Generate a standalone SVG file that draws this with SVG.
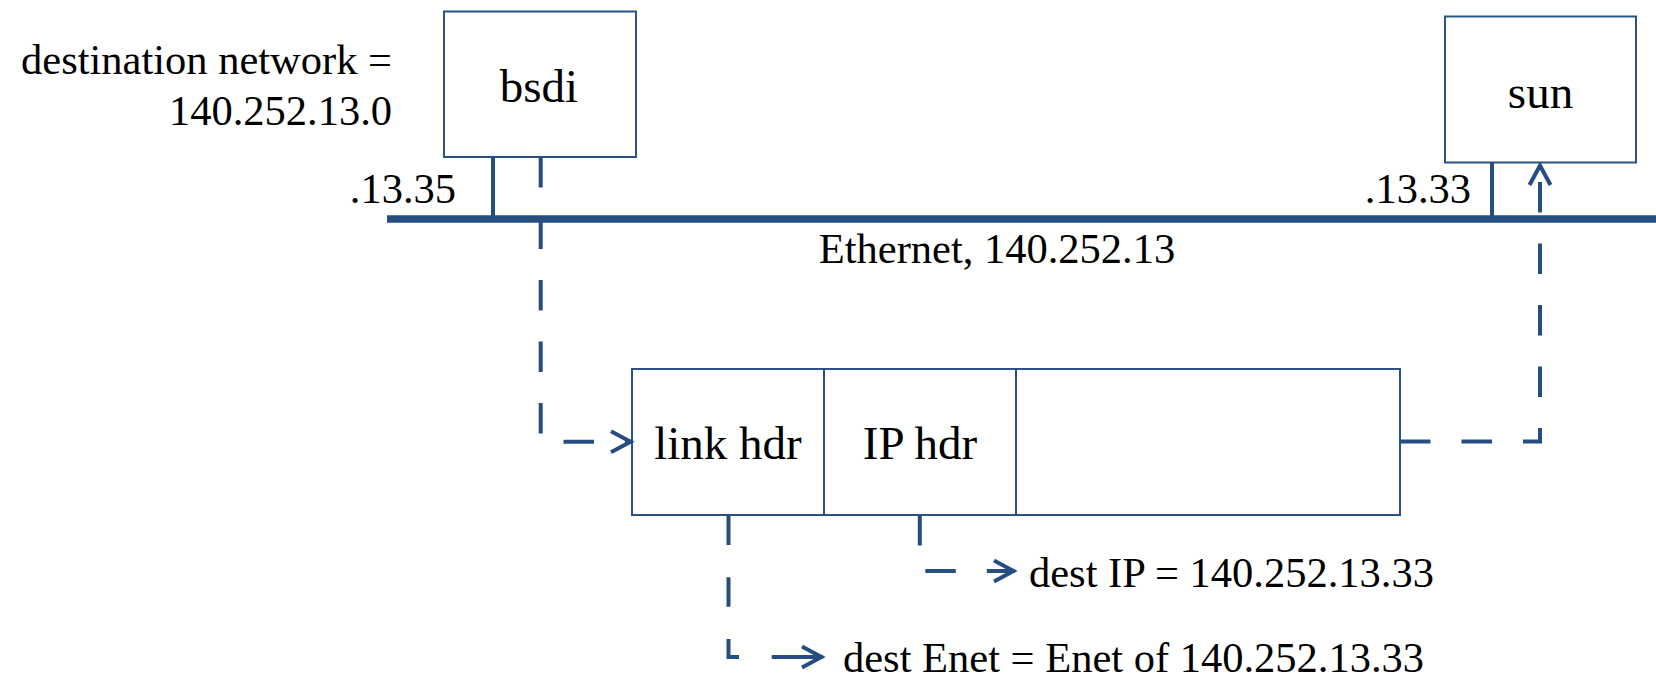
<svg xmlns="http://www.w3.org/2000/svg" width="1656" height="678" viewBox="0 0 1656 678">
<style>
  text { font-family: "Liberation Serif", "Times New Roman", serif; fill: #000; }
  .lbl { font-size: 42.5px; }
  .big { font-size: 47px; }
  .box { fill: #fff; stroke: #2C5285; stroke-width: 2; }
  .net { stroke: #264D80; stroke-width: 7.5; fill: none; }
  .stub { stroke: #264D80; stroke-width: 4; fill: none; }
  .dash { stroke: #264D80; stroke-width: 4; fill: none; stroke-dasharray: 30.5 31; }
</style>
<defs>
  <marker id="chev" viewBox="-26 -15 30 30" markerWidth="30" markerHeight="30" refX="0" refY="0" orient="auto" markerUnits="userSpaceOnUse" overflow="visible">
    <path d="M-21,-10.5 L-1.5,0 L-21,10.5" fill="none" stroke="#264D80" stroke-width="4"/>
  </marker>
</defs>
<rect width="1656" height="678" fill="#fff"/>

<g id="dest-network-label">
  <text class="lbl" x="392" y="74" text-anchor="end">destination network =</text>
  <text class="lbl" x="392" y="125" text-anchor="end">140.252.13.0</text>
</g>

<g id="ethernet">
  <line class="net" x1="387" y1="219" x2="1656" y2="219"/>
  <text class="lbl" x="997" y="263" text-anchor="middle">Ethernet, 140.252.13</text>
</g>

<g id="bsdi">
  <rect class="box" x="444" y="11.5" width="192" height="145.5"/>
  <text class="big" x="539" y="101.5" text-anchor="middle">bsdi</text>
  <line class="stub" x1="493" y1="157" x2="493" y2="219"/>
  <text class="lbl" x="456" y="203" text-anchor="end">.13.35</text>
</g>

<g id="sun">
  <rect class="box" x="1445" y="16.5" width="191" height="146"/>
  <text class="big" x="1540.5" y="108" text-anchor="middle">sun</text>
  <line class="stub" x1="1492" y1="162.5" x2="1492" y2="219"/>
  <text class="lbl" x="1471" y="203" text-anchor="end">.13.33</text>
</g>

<g id="packet">
  <rect class="box" x="632" y="369" width="768" height="146"/>
  <line class="box" x1="824" y1="369" x2="824" y2="515"/>
  <line class="box" x1="1016" y1="369" x2="1016" y2="515"/>
  <text class="big" x="728" y="459" text-anchor="middle">link hdr</text>
  <text class="big" x="920" y="459" text-anchor="middle">IP hdr</text>
</g>

<g id="dest-ip-label">
  <text class="lbl" x="1029" y="587">dest IP = 140.252.13.33</text>
</g>

<g id="dest-enet-label">
  <text class="lbl" x="843" y="672">dest Enet = Enet of 140.252.13.33</text>
</g>

<g id="connectors">
  <path class="dash" d="M540.7,157 V441.7 H632" marker-end="url(#chev)"/>
  <path class="dash" d="M1400,441.5 H1540 V164" marker-end="url(#chev)"/>
  <path class="dash" d="M919.8,515 V571 H1015" marker-end="url(#chev)"/>
  <path class="dash" style="stroke-dasharray: 29.3 32.3 29.4 32.3 28.5 32.7 60" d="M728.5,515.7 V657 H823" marker-end="url(#chev)"/>
</g>
</svg>
